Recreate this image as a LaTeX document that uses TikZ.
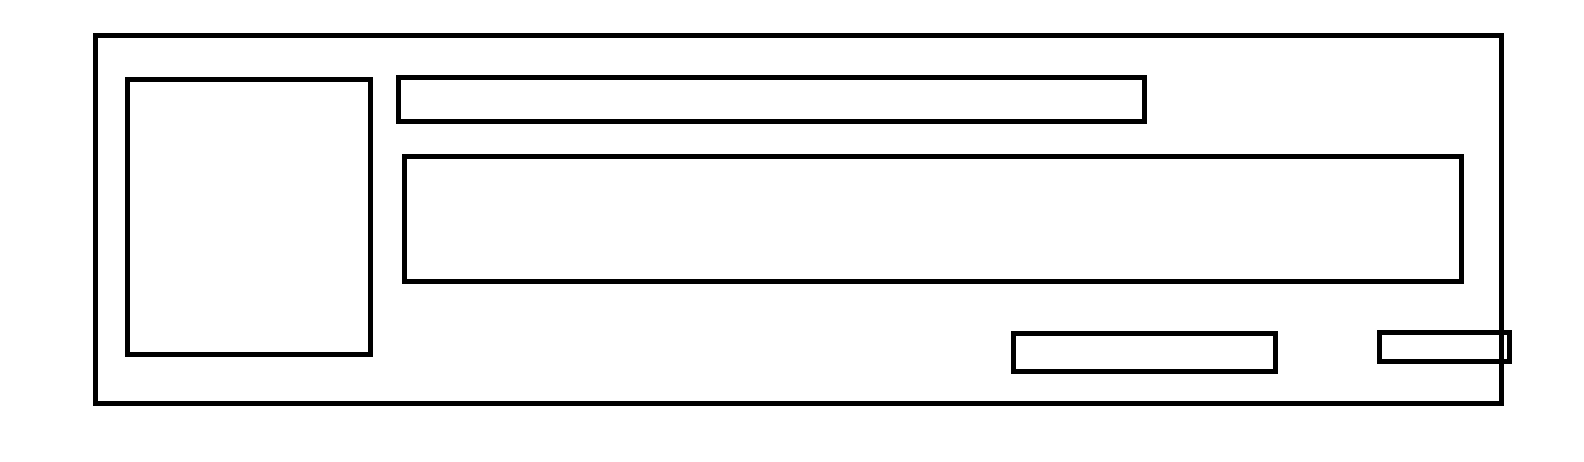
\documentclass[tikz,border=0pt]{standalone}
\usetikzlibrary{positioning}

\begin{document}
\begin{tikzpicture}[x=0.2mm, y=-0.2mm, box/.style={draw, line width=1mm}]
\useasboundingbox (0,0) rectangle (1584,461);
\draw [box] (95,35) rectangle (1501.5,403.5);
\draw [box] (127.5,79.5) rectangle (370,354.5);
\draw [box] (398.5,77.5) rectangle (1144.5,121.5);
\draw [box] (404.5,156.5) rectangle (1461.5,281.5);
\draw [box] (1013.5,333.5) rectangle (1275.5,371.5);
\draw [box] (1379.5,332.5) rectangle (1509.5,361.5);
\end{tikzpicture}
\end{document}
